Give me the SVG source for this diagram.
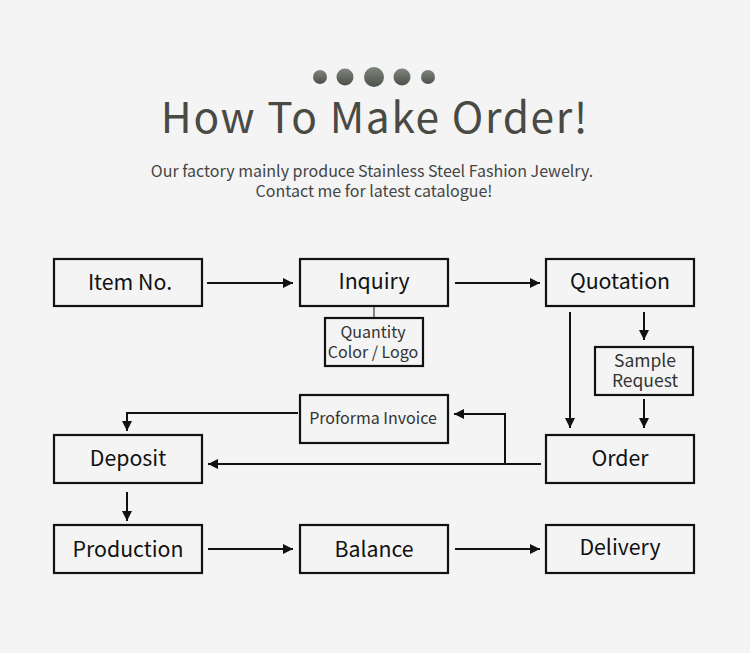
<svg xmlns="http://www.w3.org/2000/svg" width="750" height="653" viewBox="0 0 750 653">
<style>
.box{fill:none;stroke:#111;stroke-width:2.2}
.lbl{font-family:"Noto Sans CJK SC","Noto Sans",sans-serif;font-size:21.3px;fill:#111;text-anchor:middle}
.sm{font-family:"Noto Sans CJK SC","Noto Sans",sans-serif;font-size:16px;fill:#333;text-anchor:middle}
.smb{font-family:"Noto Sans CJK SC","Noto Sans",sans-serif;font-size:17.5px;fill:#333;text-anchor:middle}
.ln{fill:none;stroke:#111;stroke-width:2}
</style>
<defs>
<linearGradient id="dg" x1="0" y1="0" x2="0" y2="1">
<stop offset="0" stop-color="#7f857c"/>
<stop offset="1" stop-color="#4c504a"/>
</linearGradient>
<marker id="ah" viewBox="0 0 10 10" refX="10" refY="5" markerWidth="5" markerHeight="5" markerUnits="strokeWidth" orient="auto">
<path d="M0,0 L10,5 L0,10 Z" fill="#111"/>
</marker>
</defs>
<rect width="750" height="653" fill="#f4f4f4"/>
<g id="dots" fill="url(#dg)">
<circle cx="320" cy="77" r="7"/>
<circle cx="345" cy="77" r="8.5"/>
<circle cx="374" cy="77" r="10"/>
<circle cx="402" cy="77" r="8.5"/>
<circle cx="428" cy="77" r="7"/>
</g>
<text x="375" y="133" font-family="Noto Sans CJK SC,Noto Sans,sans-serif" font-size="42.5" fill="#4a4a44" text-anchor="middle" letter-spacing="1.6">How To Make Order!</text>
<text font-family="Noto Sans CJK SC,Noto Sans,sans-serif" font-size="16" fill="#444" text-anchor="middle"><tspan x="372" y="177">Our factory mainly produce Stainless Steel Fashion Jewelry.</tspan><tspan x="374" y="197">Contact me for latest catalogue!</tspan></text>

<g id="item"><rect class="box" x="54" y="259" width="148" height="47"/><text class="lbl" x="130" y="290">Item No.</text></g>
<g id="inquiry"><rect class="box" x="300" y="259" width="148" height="47"/><text class="lbl" x="374" y="289">Inquiry</text></g>
<g id="quotation"><rect class="box" x="546" y="259" width="148" height="47"/><text class="lbl" x="620" y="289">Quotation</text></g>
<g id="qty"><rect class="box" x="325" y="318" width="98" height="48"/><text class="sm"><tspan x="373" y="338">Quantity</tspan><tspan x="373" y="358">Color / Logo</tspan></text></g>
<g id="sample"><rect class="box" x="595" y="347" width="98" height="48"/><text class="smb"><tspan x="645" y="367">Sample</tspan><tspan x="645" y="387">Request</tspan></text></g>
<g id="proforma"><rect class="box" x="300" y="395" width="148" height="48"/><text class="sm" x="373" y="424">Proforma Invoice</text></g>
<g id="deposit"><rect class="box" x="54" y="435" width="148" height="48"/><text class="lbl" x="128" y="466">Deposit</text></g>
<g id="order"><rect class="box" x="546" y="435" width="148" height="48"/><text class="lbl" x="620" y="466">Order</text></g>
<g id="production"><rect class="box" x="54" y="525" width="148" height="48"/><text class="lbl" x="128" y="557">Production</text></g>
<g id="balance"><rect class="box" x="300" y="525" width="148" height="48"/><text class="lbl" x="374" y="557">Balance</text></g>
<g id="delivery"><rect class="box" x="546" y="525" width="148" height="48"/><text class="lbl" x="620" y="555">Delivery</text></g>

<g id="connectors">
<path class="ln" d="M207,283 H293" marker-end="url(#ah)"/>
<path class="ln" d="M455,283 H540" marker-end="url(#ah)"/>
<path d="M374,307 V318" stroke="#111" stroke-width="1" fill="none"/>
<path class="ln" d="M570,312 V428" marker-end="url(#ah)"/>
<path class="ln" d="M644,312 V340" marker-end="url(#ah)"/>
<path class="ln" d="M644,399 V428" marker-end="url(#ah)"/>
<path class="ln" d="M541,464 H208" marker-end="url(#ah)"/>
<path class="ln" d="M505,464 V414 H454" marker-end="url(#ah)"/>
<path class="ln" d="M298,413 H127 V431" marker-end="url(#ah)"/>
<path class="ln" d="M127,492 V521" marker-end="url(#ah)"/>
<path class="ln" d="M208,549 H293" marker-end="url(#ah)"/>
<path class="ln" d="M455,549 H540" marker-end="url(#ah)"/>
</g>
</svg>
